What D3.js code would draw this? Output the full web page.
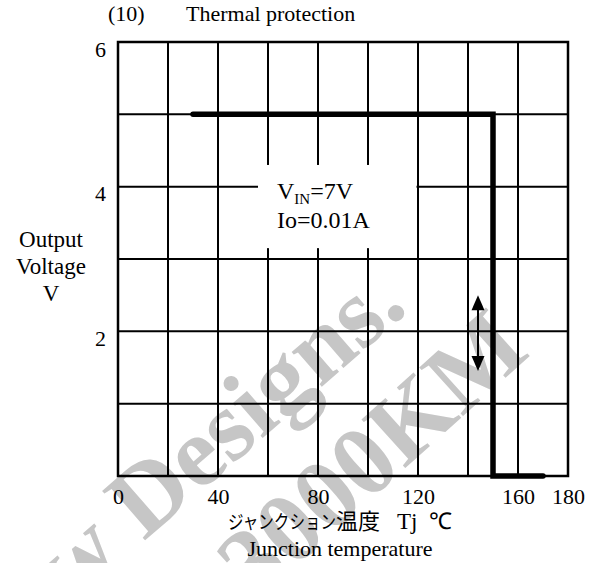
<!DOCTYPE html>
<html>
<head>
<meta charset="utf-8">
<script src="https://cdn.jsdelivr.net/npm/d3@7"></script>
<style>
  html, body { margin: 0; padding: 0; background: #fff; }
  svg { display: block; }
  text { font-family: "Liberation Serif", "Times New Roman", "Noto Sans CJK JP", serif; fill: #000; }
</style>
</head>
<body>
<div id="chart"></div>
<script>
// ---- data ----
const xTickValues = [0, 40, 80, 120, 160, 180];
const yTickValues = [2, 4, 6];
const xGridValues = [20, 40, 60, 80, 100, 120, 140, 160];
const yGridValues = [1, 2, 3, 4, 5];
const junctionTemp = [30, 150, 150, 170];      // Tj (°C)
const outputVoltage = [5, 5, 0, 0];            // V
const arrowTemp = [144, 144];
const arrowVoltage = [2.5, 1.45];
const titleNumber = "(10)";
const titleText = "Thermal protection";
const yLabelLines = ["Output", "Voltage", "V"];
const xLabelJa = "ジャンクション";
const xLabelJa2 = "温度";
const xLabelUnit = "Tj  ℃";
const xLabelEn = "Junction temperature";
const conditionLines = ["=7V", "Io=0.01A"];
const watermarkLines = ["w Designs.", "3000KM"];

// ---- layout ----
const W = 611, H = 563;
const svg = d3.select("#chart").append("svg").attr("width", W).attr("height", H);

const x = d3.scaleLinear().domain([0, 180]).range([118, 568]);
const y = d3.scaleLinear().domain([0, 6]).range([476, 42]);

// watermark (beneath everything)
const wm = svg.append("g");
wm.append("text")
  .attr("transform", "translate(410,310) rotate(-41)")
  .attr("text-anchor", "end")
  .style("font-size", "100px").style("font-weight", "bold").style("fill", "#c6c6c6")
  .text(watermarkLines[0]);
wm.append("text")
  .attr("transform", "translate(532,354) rotate(-42)")
  .attr("text-anchor", "end")
  .style("font-size", "100px").style("font-weight", "bold").style("fill", "#c6c6c6")
  .text(watermarkLines[1]);

// grid
const grid = svg.append("g").attr("stroke", "#000").attr("stroke-width", 2);
grid.selectAll("line.vx").data(xGridValues).enter().append("line")
  .attr("x1", d => x(d)).attr("x2", d => x(d))
  .attr("y1", y(0)).attr("y2", y(6));
grid.selectAll("line.hy").data(yGridValues).enter().append("line")
  .attr("x1", x(0)).attr("x2", x(180))
  .attr("y1", d => y(d)).attr("y2", d => y(d));

// white box behind condition text
svg.append("rect")
  .attr("x", x(56)).attr("y", y(4.3))
  .attr("width", x(119.4) - x(56)).attr("height", y(3.15) - y(4.3))
  .attr("fill", "#fff");

// frame
svg.append("rect")
  .attr("x", x(0)).attr("y", y(6))
  .attr("width", x(180) - x(0)).attr("height", y(0) - y(6))
  .attr("fill", "none").attr("stroke", "#000").attr("stroke-width", 2.5);

// data line
const pts = junctionTemp.map((t, i) => [t, outputVoltage[i]]);
svg.append("path")
  .datum(pts)
  .attr("d", d3.line().x(d => x(d[0])).y(d => y(d[1])))
  .attr("fill", "none").attr("stroke", "#000").attr("stroke-width", 5.5)
  .attr("stroke-linejoin", "miter").attr("stroke-linecap", "round");

// double arrow
const ax = x(arrowTemp[0]);
const ay1 = y(arrowVoltage[0]), ay2 = y(arrowVoltage[1]);
const hw = 6.5, hh = 15;
svg.append("line").attr("x1", ax).attr("x2", ax).attr("y1", ay1 + hh - 2).attr("y2", ay2 - hh + 2)
  .attr("stroke", "#000").attr("stroke-width", 2);
svg.append("path").attr("d", `M${ax},${ay1} L${ax - hw},${ay1 + hh} L${ax + hw},${ay1 + hh} Z`).attr("fill", "#000");
svg.append("path").attr("d", `M${ax},${ay2} L${ax - hw},${ay2 - hh} L${ax + hw},${ay2 - hh} Z`).attr("fill", "#000");

// axes tick labels
const xAxis = d3.axisBottom(x).tickValues(xTickValues).tickSize(0).tickPadding(0).tickFormat(d3.format("d"));
const gx = svg.append("g").attr("transform", `translate(0,${y(0)})`).call(xAxis);
gx.select(".domain").remove();
gx.selectAll("text").attr("y", 28).attr("dy", 0)
  .style("font-size", "22px").style("font-family", '"Liberation Serif", serif');

const yAxis = d3.axisLeft(y).tickValues(yTickValues).tickSize(0).tickPadding(0).tickFormat(d3.format("d"));
const gy = svg.append("g").attr("transform", `translate(${x(0) - 12},0)`).call(yAxis);
gy.select(".domain").remove();
gy.selectAll("text").attr("x", 0).attr("dy", "0.32em").attr("y", 7)
  .style("font-size", "22px").style("font-family", '"Liberation Serif", serif');

// title
svg.append("text").attr("x", 108).attr("y", 21).style("font-size", "22px").text(titleNumber);
svg.append("text").attr("x", 186).attr("y", 21).style("font-size", "22px").text(titleText);

// y label
const yl = svg.append("text").attr("text-anchor", "middle").style("font-size", "23px");
yLabelLines.forEach((s, i) => {
  yl.append("tspan").attr("x", 51).attr("y", 247 + i * 27).text(s);
});

// x label (Japanese + English)
const xlJa = svg.append("text").attr("x", 228).attr("y", 529).style("font-size", "22px");
xlJa.append("tspan")
  .style("font-family", '"Noto Sans CJK JP", sans-serif').style("font-size", "19px")
  .attr("textLength", 108).attr("lengthAdjust", "spacingAndGlyphs")
  .text(xLabelJa);
xlJa.append("tspan")
  .style("font-family", '"Noto Sans CJK JP", sans-serif').style("font-size", "22px")
  .text(xLabelJa2);
xlJa.append("tspan").attr("x", 397).style("font-family", '"Liberation Serif", serif')
  .style("white-space", "pre").style("font-size", "23px").text(xLabelUnit);

svg.append("text").attr("x", 340).attr("y", 556).attr("text-anchor", "middle")
  .style("font-size", "22px").text(xLabelEn);

// condition annotation
const c1 = svg.append("text").attr("x", x(63.6)).attr("y", 199).style("font-size", "24px");
c1.append("tspan").text("V");
c1.append("tspan").attr("dy", 5).style("font-size", "15px").text("IN");
c1.append("tspan").attr("dy", -5).text(conditionLines[0]);
svg.append("text").attr("x", x(63.6)).attr("y", 228).style("font-size", "24px").text(conditionLines[1]);
</script>
</body>
</html>
